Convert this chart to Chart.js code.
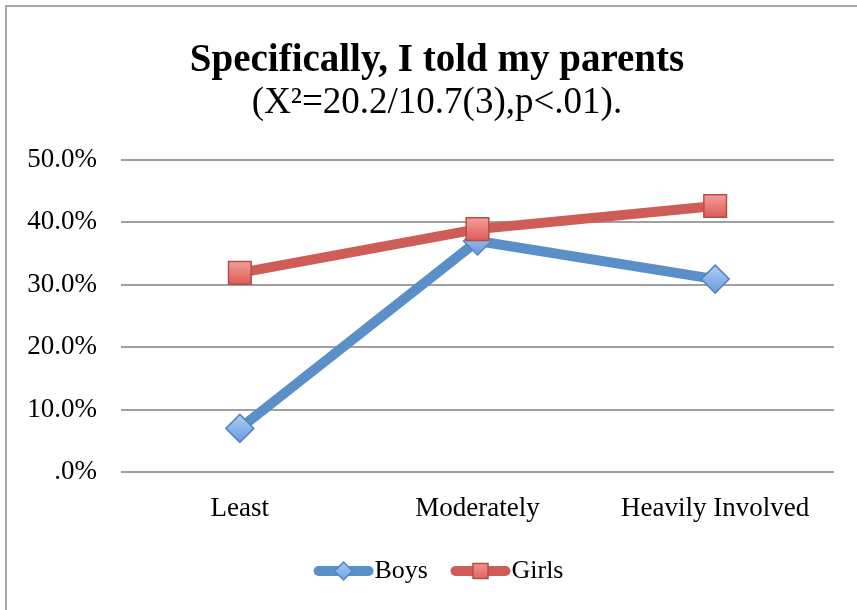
<!DOCTYPE html>
<html>
<head>
<meta charset="utf-8">
<title>Specifically, I told my parents</title>
<script src="https://cdn.jsdelivr.net/npm/chart.js@4.4.1/dist/chart.umd.min.js"></script>
<style>
    html, body { margin: 0; padding: 0; background: #fff; overflow: hidden; }
    #frame {
        position: absolute;
        left: 5px;
        top: 5px;
        width: 860px;
        height: 640px;
        border: 2px solid #a6a6a6;
    }
</style>
</head>
<body>
<div id="frame"><canvas id="myChart"></canvas></div>
<script>
"use strict";

var categories = ["Least", "Moderately", "Heavily Involved"];
var boys = [7.0, 37.0, 30.9];
var girls = [31.9, 38.9, 42.6];
var yTicks = [0, 10, 20, 30, 40, 50];

var serif = "'Liberation Serif', 'Times New Roman', serif";

// vertical gradient for a marker, centred on its own point
function markerFill(top, bottom) {
    return function (c) {
        if (c.type !== 'data' || !c.chart.scales.y || !c.parsed) {
            return bottom;
        }
        var y = c.chart.scales.y.getPixelForValue(c.parsed.y);
        if (!isFinite(y)) {
            return bottom;
        }
        var g = c.chart.ctx.createLinearGradient(0, y - 12, 0, y + 12);
        g.addColorStop(0, top);
        g.addColorStop(1, bottom);
        return g;
    };
}

// legend swatch: thick rounded line with the marker on top of it.
// The line sits right of centre so the label text follows it closely.
function legendSwatch(lineColor, fillTop, fillBottom, edge, shape) {
    var cv = document.createElement('canvas');
    cv.width = 78;
    cv.height = 28;
    var c = cv.getContext('2d');
    var x0 = 21.5, x1 = 71.5, mid = (x0 + x1) / 2;
    c.lineCap = 'round';
    c.lineWidth = 10;
    c.strokeStyle = lineColor;
    c.beginPath();
    c.moveTo(x0, 14);
    c.lineTo(x1, 14);
    c.stroke();

    var g = c.createLinearGradient(0, 3, 0, 25);
    g.addColorStop(0, fillTop);
    g.addColorStop(1, fillBottom);
    c.fillStyle = g;
    c.strokeStyle = edge;
    c.lineWidth = 1.5;
    c.beginPath();
    if (shape === 'diamond') {
        c.moveTo(mid, 5);
        c.lineTo(mid + 9, 14);
        c.lineTo(mid, 23);
        c.lineTo(mid - 9, 14);
        c.closePath();
    } else {
        c.rect(mid - 7.5, 6.5, 15, 15);
    }
    c.fill();
    c.stroke();
    return cv;
}

var boysSwatch = legendSwatch('#5a8fc8', '#a9cbf2', '#6f9fe0', '#5684c2', 'diamond');
var girlsSwatch = legendSwatch('#cd5d56', '#f4a19c', '#dc5954', '#b94c48', 'square');

var ctx = document.getElementById('myChart');

var data = {
    labels: categories,
    datasets: [
        {
            label: "Boys",
            data: boys,
            order: 1,
            borderColor: "#5a8fc8",
            borderWidth: 10,
            borderJoinStyle: 'round',
            pointStyle: 'rectRot',
            pointRadius: 14,
            pointBorderWidth: 1.5,
            pointBorderColor: "#5684c2",
            pointBackgroundColor: markerFill('#a9cbf2', '#6f9fe0'),
            swatch: boysSwatch
        },
        {
            label: "Girls",
            data: girls,
            order: 0,
            borderColor: "#cd5d56",
            borderWidth: 10,
            borderJoinStyle: 'round',
            pointStyle: 'rect',
            pointRadius: 16,
            pointBorderWidth: 1.5,
            pointBorderColor: "#b94c48",
            pointBackgroundColor: markerFill('#f4a19c', '#dc5954'),
            swatch: girlsSwatch
        }
    ]
};

var myLineChart = new Chart(ctx, {
    type: 'line',
    data: data,
    options: {
        responsive: true,
        maintainAspectRatio: false,
        animation: false,
        events: [],
        layout: {
            padding: { left: 10, right: 10, top: 0, bottom: 53 }
        },
        plugins: {
            title: {
                display: true,
                text: "Specifically, I told my parents",
                color: '#000',
                font: { family: serif, size: 39, weight: 'bold', lineHeight: 1.2 },
                padding: { top: 31, bottom: 0 }
            },
            subtitle: {
                display: true,
                text: "(X\u00B2=20.2/10.7(3),p<.01).",
                color: '#000',
                font: { family: serif, size: 37, lineHeight: 1.0 },
                padding: { top: 0, bottom: 38 }
            },
            legend: {
                position: 'bottom',
                labels: {
                    usePointStyle: true,
                    pointStyleWidth: 51,
                    padding: 19.5,
                    color: '#000',
                    font: { family: serif, size: 26, lineHeight: 1.0 },
                    generateLabels: function (chart) {
                        return chart.data.datasets.map(function (ds, i) {
                            return {
                                text: ds.label,
                                pointStyle: ds.swatch,
                                fillStyle: ds.borderColor,
                                strokeStyle: ds.borderColor,
                                lineWidth: 0,
                                fontColor: '#000',
                                datasetIndex: i
                            };
                        });
                    }
                }
            },
            tooltip: { enabled: false }
        },
        scales: {
            x: {
                offset: true,
                grid: { display: false },
                border: { display: false },
                ticks: {
                    color: '#000',
                    padding: 13,
                    maxRotation: 0,
                    font: { family: serif, size: 27 }
                }
            },
            y: {
                min: yTicks[0],
                max: yTicks[yTicks.length - 1],
                afterBuildTicks: function (axis) {
                    axis.ticks = yTicks.map(function (v) { return { value: v }; });
                },
                afterFit: function (axis) {
                    axis.width = 104;
                },
                grid: {
                    color: '#a0a0a0',
                    lineWidth: 2,
                    drawTicks: false
                },
                border: { display: false },
                ticks: {
                    color: '#000',
                    padding: 24,
                    font: { family: serif, size: 27 },
                    callback: function (v) {
                        return v === 0 ? '.0%' : v.toFixed(1) + '%';
                    }
                }
            },
            // empty strip on the right, keeps the plot clear of the frame edge
            yRight: {
                position: 'right',
                display: true,
                grid: { display: false },
                border: { display: false },
                ticks: { display: false },
                afterFit: function (axis) {
                    axis.width = 23;
                }
            }
        }
    }
});
</script>
</body>
</html>
